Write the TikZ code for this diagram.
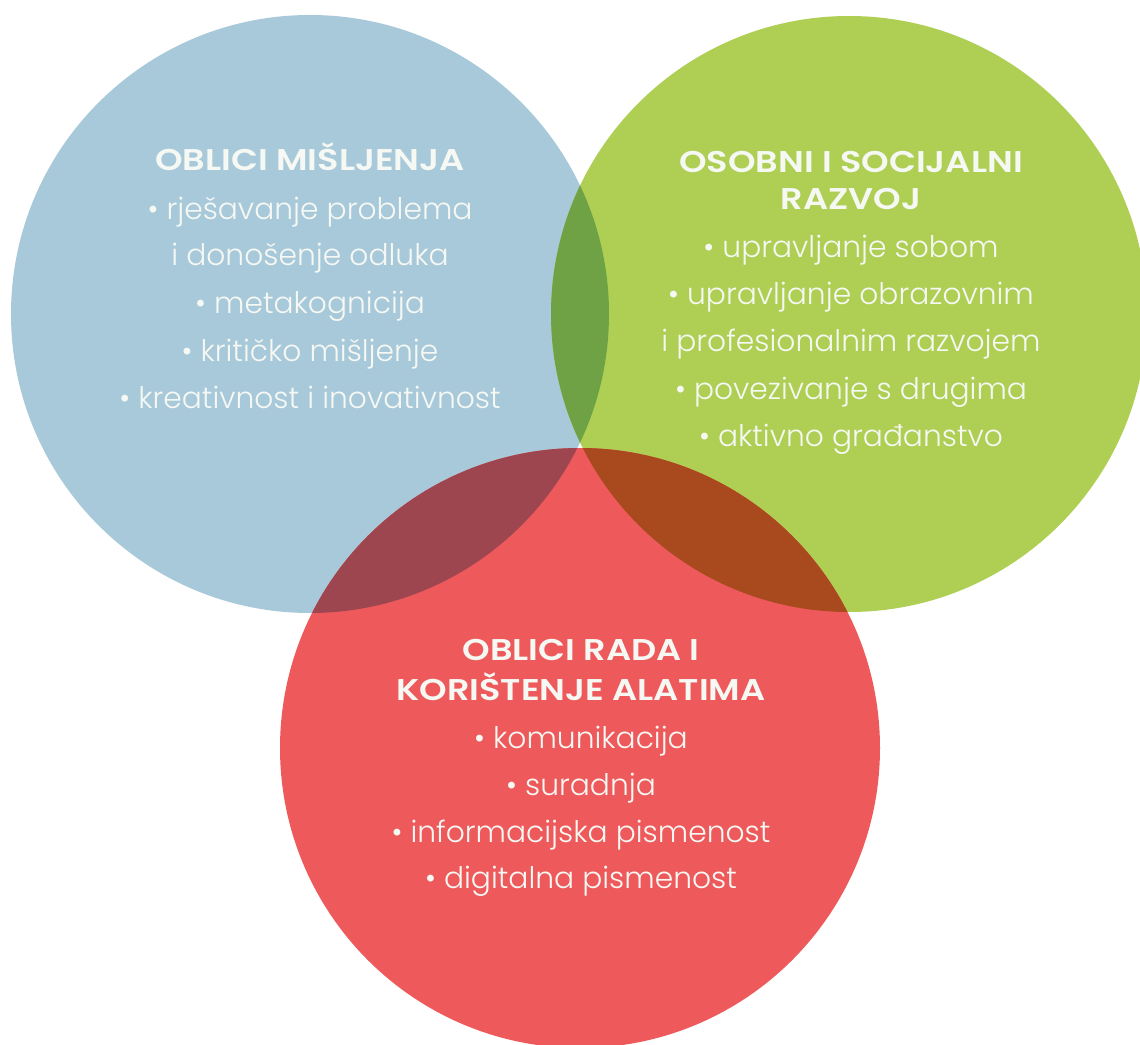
\documentclass[tikz,border=0pt]{standalone}
\usepackage{fontspec}
\setmainfont{Poppins}
\newfontfamily\itemfont{Poppins Light}
\newfontfamily\headfont{Poppins SemiBold}[FakeStretch=1.17]
\definecolor{cblue}{HTML}{A8C9DA}
\definecolor{cgreen}{HTML}{AECF54}
\definecolor{cred}{HTML}{EE5A5C}
\definecolor{cbg}{HTML}{6FA245}
\definecolor{cbr}{HTML}{9E4650}
\definecolor{cgr}{HTML}{A8491E}
\definecolor{ctext}{HTML}{F6F8F4}
\begin{document}
\begin{tikzpicture}[x=0.75pt,y=-0.75pt,
  head/.style={text=ctext,font=\headfont\fontsize{22.5}{28}\selectfont,inner sep=0pt,anchor=base},
  itm/.style={text=ctext,font=\itemfont\fontsize{22.3}{33}\selectfont,inner sep=0pt,anchor=base}]
\useasboundingbox (0,0) rectangle (1140,1045);
\fill[white] (0,0) rectangle (1140,1045);
% circles
\coordinate (cb) at (310,314);
\coordinate (cg) at (849,314);
\coordinate (cr) at (580,748);
\def\rb{224.25pt}\def\rg{223.5pt}\def\rr{225pt}
\fill[cblue] (cb) circle[radius=\rb];
\fill[cgreen] (cg) circle[radius=\rg];
\fill[cred] (cr) circle[radius=\rr];
% overlaps
\begin{scope}
  \clip (cb) circle[radius=\rb];
  \fill[cbg] (cg) circle[radius=\rg];
\end{scope}
\begin{scope}
  \clip (cb) circle[radius=\rb];
  \fill[cbr] (cr) circle[radius=\rr];
\end{scope}
\begin{scope}
  \clip (cg) circle[radius=\rg];
  \fill[cgr] (cr) circle[radius=\rr];
\end{scope}
% blue texts
\node[head] (h1) at (310,171) {OBLICI MIŠLJENJA};
\node[itm] (b1) at (310,220) {• rješavanje problema};
\node[itm] (b2) at (310,266) {i donošenje odluka};
\node[itm] (b3) at (310,314) {• metakognicija};
\node[itm] (b4) at (310,361) {• kritičko mišljenje};
\node[itm] (b5) at (310,408) {• kreativnost i inovativnost};
% green texts
\node[head] (h2a) at (851,173) {OSOBNI I SOCIJALNI};
\node[head] (h2b) at (851,210) {RAZVOJ};
\node[itm] (g1) at (851,258) {• upravljanje sobom};
\node[itm] (g2) at (851,305) {• upravljanje obrazovnim};
\node[itm] (g3) at (851,352) {i profesionalnim razvojem};
\node[itm] (g4) at (851,399) {• povezivanje s drugima};
\node[itm] (g5) at (851,446) {• aktivno građanstvo};
% red texts
\node[head] (h3a) at (581,660) {OBLICI RADA I};
\node[head] (h3b) at (581,700) {KORIŠTENJE ALATIMA};
\node[itm] (r1) at (581,748) {• komunikacija};
\node[itm] (r2) at (581,795) {• suradnja};
\node[itm] (r3) at (581,842) {• informacijska pismenost};
\node[itm] (r4) at (581,888) {• digitalna pismenost};
\end{tikzpicture}
\end{document}
